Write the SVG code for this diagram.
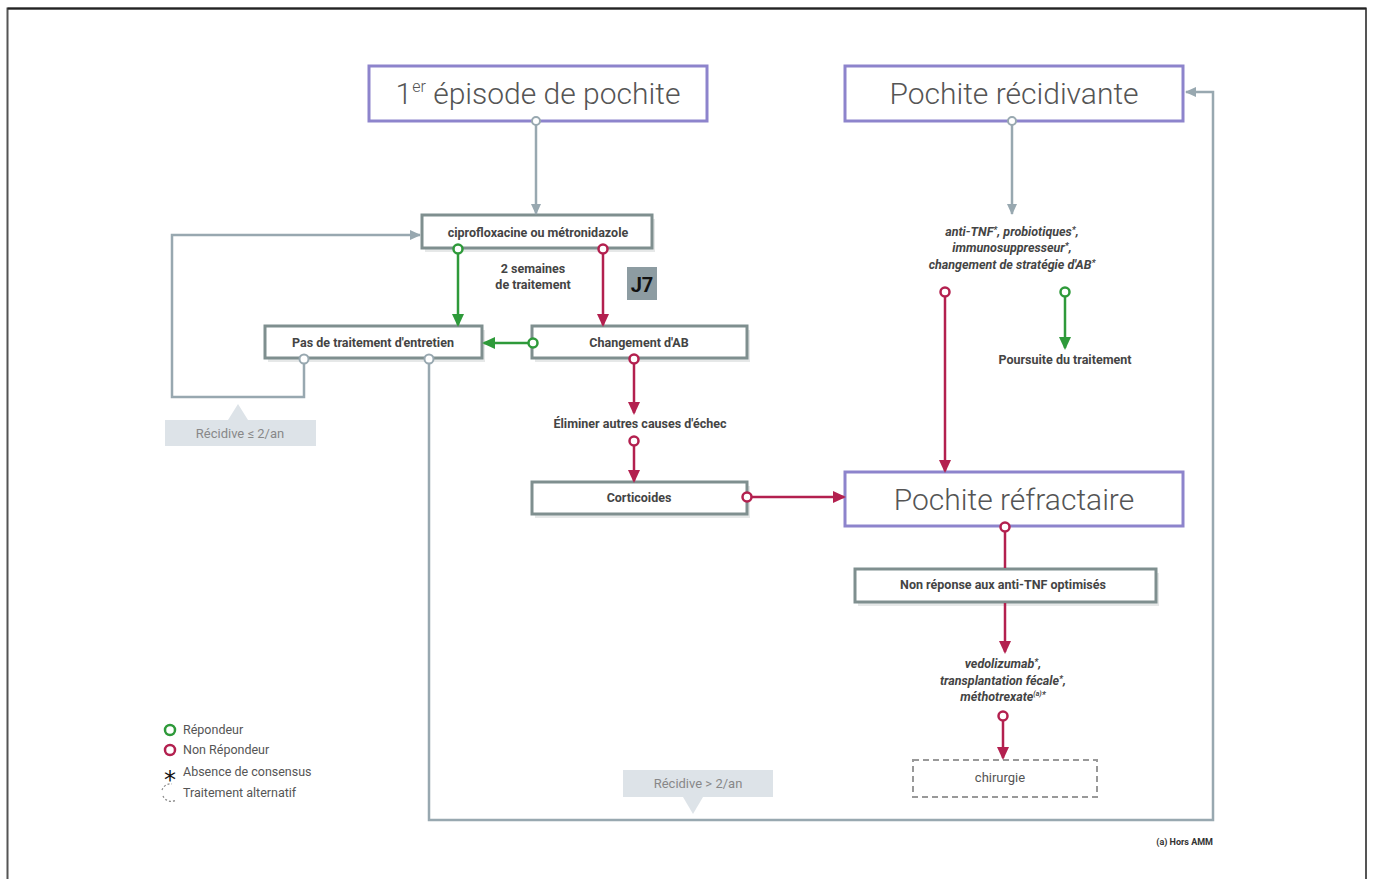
<svg xmlns="http://www.w3.org/2000/svg" width="1373" height="879" viewBox="0 0 1373 879">
<style>
.big{font-family:Roboto,"Liberation Sans",sans-serif;font-weight:300;font-size:30px;fill:#555;text-anchor:middle}
.bt{font-family:Roboto,"Liberation Sans",sans-serif;font-weight:bold;font-size:12.5px;fill:#444;text-anchor:middle}
.it{font-family:Roboto,"Liberation Sans",sans-serif;font-weight:bold;font-style:italic;font-size:12.5px;fill:#444;text-anchor:middle}
.nt{font-family:Roboto,"Liberation Sans",sans-serif;font-size:13px;fill:#555;text-anchor:middle}
.lg{font-family:Roboto,"Liberation Sans",sans-serif;font-size:12.5px;fill:#555}
.pbox{fill:#fff;stroke:#8d84cc;stroke-width:3}
.gbox{fill:#fff;stroke:#7f8f8f;stroke-width:3}
.shadow{fill:#e6e8e8}
.g{stroke:#98a8b0;stroke-width:2.5;fill:none}
.gr{stroke:#2e9a3a;stroke-width:2.5;fill:none}
.rd{stroke:#b3204f;stroke-width:2.5;fill:none}
.cg{fill:#fff;stroke:#98a8b0;stroke-width:2}
.cgr{fill:#fff;stroke:#2e9a3a;stroke-width:2.5}
.crd{fill:#fff;stroke:#b3204f;stroke-width:2.5}
.tag{fill:#dde3e8}
.tagt{font-family:Roboto,"Liberation Sans",sans-serif;font-size:13px;fill:#888;text-anchor:middle}
</style>
<defs>
<marker id="ag" markerWidth="12" markerHeight="12" refX="10" refY="6" orient="auto" markerUnits="userSpaceOnUse"><path d="M0,1 L11,6 L0,11 z" fill="#98a8b0"/></marker>
<marker id="agr" markerWidth="14" markerHeight="14" refX="11" refY="7" orient="auto" markerUnits="userSpaceOnUse"><path d="M0,1 L13,7 L0,13 z" fill="#2e9a3a"/></marker>
<marker id="ard" markerWidth="14" markerHeight="14" refX="11" refY="7" orient="auto" markerUnits="userSpaceOnUse"><path d="M0,1 L13,7 L0,13 z" fill="#b3204f"/></marker>
</defs>
<rect x="0" y="0" width="1373" height="879" fill="#fff"/>
<path d="M7.5,879 V8.5 H1366 V879" fill="none" stroke="#555" stroke-width="2"/>
<path d="M7.5,8.5 H1366" stroke="#222" stroke-width="2"/>

<g id="n-episode">
<rect class="pbox" x="369" y="66" width="338" height="55"/>
<text class="big" x="538" y="104">1<tspan font-size="16" dy="-12">er</tspan><tspan dy="12"> épisode de pochite</tspan></text>
</g>
<g id="n-recidivante">
<rect class="pbox" x="845" y="66" width="338" height="55"/>
<text class="big" x="1014" y="104">Pochite récidivante</text>
</g>
<g id="n-cipro">
<rect class="shadow" x="425" y="219" width="230" height="33"/>
<rect class="gbox" x="422" y="215" width="230" height="33"/>
<text class="bt" x="538" y="237">ciprofloxacine ou métronidazole</text>
</g>
<g id="n-2semaines">
<text class="bt" x="533" y="273">2 semaines</text>
<text class="bt" x="533" y="289">de traitement</text>
</g>
<g id="n-j7">
<rect x="627" y="267" width="30" height="33" fill="#8d9ca2"/>
<text x="642" y="292" font-family="Roboto,'Liberation Sans',sans-serif" font-weight="bold" font-size="20" fill="#111" text-anchor="middle">J7</text>
</g>
<g id="n-pas">
<rect class="shadow" x="268" y="330" width="217" height="32"/>
<rect class="gbox" x="265" y="326" width="217" height="32"/>
<text class="bt" x="373" y="347">Pas de traitement d'entretien</text>
</g>
<g id="n-changement">
<rect class="shadow" x="535" y="330" width="215" height="32"/>
<rect class="gbox" x="532" y="326" width="215" height="32"/>
<text class="bt" x="639" y="347">Changement d'AB</text>
</g>
<g id="n-eliminer">
<text class="bt" x="640" y="428">Éliminer autres causes d'échec</text>
</g>
<g id="n-corticoides">
<rect class="shadow" x="535" y="486" width="215" height="32"/>
<rect class="gbox" x="532" y="482" width="215" height="32"/>
<text class="bt" x="639" y="502">Corticoides</text>
</g>
<g id="n-refractaire">
<rect class="pbox" x="845" y="472" width="338" height="54"/>
<text class="big" x="1014" y="510">Pochite réfractaire</text>
</g>
<g id="n-antitnf">
<text class="it" x="1012" y="236">anti-TNF<tspan font-size="9" dy="-3">*</tspan><tspan dy="3">, probiotiques</tspan><tspan font-size="9" dy="-3">*</tspan><tspan dy="3">,</tspan></text>
<text class="it" x="1012" y="252">immunosuppresseur<tspan font-size="9" dy="-3">*</tspan><tspan dy="3">,</tspan></text>
<text class="it" x="1012" y="269">changement de stratégie d'AB<tspan font-size="9" dy="-3">*</tspan></text>
</g>
<g id="n-poursuite">
<text class="bt" x="1065" y="364">Poursuite du traitement</text>
</g>
<g id="n-nonreponse">
<rect class="shadow" x="858" y="573" width="301" height="33"/>
<rect class="gbox" x="855" y="569" width="301" height="33"/>
<text class="bt" x="1003" y="589">Non réponse aux anti-TNF optimisés</text>
</g>
<g id="n-vedolizumab">
<text class="it" x="1003" y="668">vedolizumab<tspan font-size="9" dy="-3">*</tspan><tspan dy="3">,</tspan></text>
<text class="it" x="1003" y="685">transplantation fécale<tspan font-size="9" dy="-3">*</tspan><tspan dy="3">,</tspan></text>
<text class="it" x="1003" y="701">méthotrexate<tspan font-size="7" dy="-5">(a)</tspan><tspan font-size="9" dy="2">*</tspan></text>
</g>
<g id="n-chirurgie">
<rect x="913" y="760" width="184" height="37" fill="#fff" stroke="#999" stroke-width="2" stroke-dasharray="6,4"/>
<text class="nt" x="1000" y="782">chirurgie</text>
</g>
<g id="n-tag1">
<rect class="tag" x="165" y="420" width="151" height="26"/>
<path class="tag" d="M228,420 L238,404 L248,420 z"/>
<text class="tagt" x="240" y="438">Récidive ≤ 2/an</text>
</g>
<g id="n-tag2">
<rect class="tag" x="623" y="770" width="150" height="27"/>
<path class="tag" d="M683,797 L693,814 L703,797 z"/>
<text class="tagt" x="698" y="788">Récidive &gt; 2/an</text>
</g>

<g id="connectors">
<line class="g" x1="536" y1="125" x2="536" y2="214" marker-end="url(#ag)"/>
<line class="g" x1="1012" y1="125" x2="1012" y2="214" marker-end="url(#ag)"/>
<line class="gr" x1="458" y1="253" x2="458" y2="325" marker-end="url(#agr)"/>
<line class="rd" x1="603" y1="253" x2="603" y2="325" marker-end="url(#ard)"/>
<line class="gr" x1="529" y1="343" x2="484" y2="343" marker-end="url(#agr)"/>
<line class="rd" x1="634" y1="363" x2="634" y2="413" marker-end="url(#ard)"/>
<line class="rd" x1="634" y1="445" x2="634" y2="481" marker-end="url(#ard)"/>
<line class="rd" x1="751" y1="497" x2="844" y2="497" marker-end="url(#ard)"/>
<line class="rd" x1="945" y1="296" x2="945" y2="471" marker-end="url(#ard)"/>
<line class="gr" x1="1065" y1="296" x2="1065" y2="348" marker-end="url(#agr)"/>
<line class="rd" x1="1005" y1="531" x2="1005" y2="568"/>
<line class="rd" x1="1005" y1="603" x2="1005" y2="652" marker-end="url(#ard)"/>
<line class="rd" x1="1003" y1="720" x2="1003" y2="758" marker-end="url(#ard)"/>
<polyline class="g" points="304,363 304,397 172,397 172,235 420,235" marker-end="url(#ag)"/>
<polyline class="g" points="429,363 429,820 1213,820 1213,92 1186,92" marker-end="url(#ag)"/>
<circle class="cg" cx="536" cy="121" r="4"/>
<circle class="cg" cx="1012" cy="121" r="4"/>
<circle class="cgr" cx="458" cy="249" r="4.5"/>
<circle class="crd" cx="603" cy="249" r="4.5"/>
<circle class="cgr" cx="533" cy="343" r="4.5"/>
<circle class="crd" cx="634" cy="359" r="4.5"/>
<circle class="crd" cx="634" cy="441" r="4.5"/>
<circle class="crd" cx="747" cy="497" r="4.5"/>
<circle class="crd" cx="945" cy="292" r="4.5"/>
<circle class="cgr" cx="1065" cy="292" r="4.5"/>
<circle class="crd" cx="1005" cy="527" r="4.5"/>
<circle class="crd" cx="1003" cy="716" r="4.5"/>
<circle class="cg" cx="304" cy="359" r="4.5"/>
<circle class="cg" cx="429" cy="359" r="4.5"/>
</g>

<g id="legend">
<circle class="cgr" cx="170" cy="730" r="5"/>
<text class="lg" x="183" y="734">Répondeur</text>
<circle class="crd" cx="170" cy="750" r="5"/>
<text class="lg" x="183" y="754">Non Répondeur</text>
<text x="170" y="788" font-family="'DejaVu Sans',sans-serif" font-size="24" fill="#111" text-anchor="middle">*</text>
<text class="lg" x="183" y="776">Absence de consensus</text>
<path d="M162,790 A9,9 0 0 1 172,784 M163,796 A9,9 0 0 0 176,800" fill="none" stroke="#888" stroke-width="1.2" stroke-dasharray="2,2"/>
<text class="lg" x="183" y="797">Traitement alternatif</text>
</g>
<g id="footnote">
<text x="1213" y="845" font-family="Roboto,'Liberation Sans',sans-serif" font-weight="bold" font-size="9" fill="#333" text-anchor="end">(a) Hors AMM</text>
</g>
</svg>
